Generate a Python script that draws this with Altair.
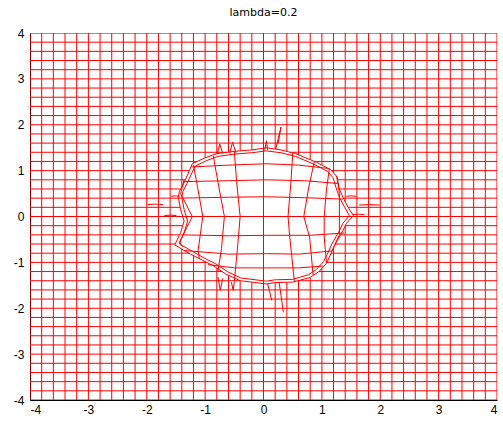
import altair as alt
import pandas as pd

TITLE = "lambda=0.2"
TICKS = [-4, -3, -2, -1, 0, 1, 2, 3, 4]

# Positions of the undistorted grid lines (both directions)
GRID = [-4.0, -3.8, -3.6, -3.4, -3.2, -3.0, -2.8, -2.6, -2.4, -2.2, -2.0,
        -1.8, -1.6, -1.4, -1.2, -1.0, -0.8, -0.6, -0.4, -0.2, 0.0,
        0.2, 0.4, 0.6, 0.8, 1.0, 1.2, 1.4, 1.6, 1.8, 2.0,
        2.2, 2.4, 2.6, 2.8, 3.0, 3.2, 3.4, 3.6, 3.8, 4.0]

# Outline of the distorted region (clockwise from the top)
BOUNDARY_X = [0.05, 0.30, 0.55, 0.91, 1.15, 1.25, 1.30, 1.36, 1.45, 1.54, 1.42,
              1.36, 1.22, 1.14, 1.08, 0.95, 0.80, 0.50, 0.20, 0.05, -0.20,
              -0.40, -0.65, -0.85, -1.05, -1.25, -1.52, -1.42, -1.36, -1.42,
              -1.46, -1.44, -1.36, -1.27, -1.22, -1.00, -0.80, -0.50, -0.20]
BOUNDARY_Y = [1.50, 1.45, 1.37, 1.18, 1.02, 0.88, 0.60, 0.42, 0.20, 0.02, -0.15,
              -0.31, -0.62, -0.85, -1.02, -1.20, -1.33, -1.43, -1.44, -1.47, -1.43,
              -1.40, -1.25, -1.08, -0.95, -0.82, -0.62, -0.35, -0.10, 0.15,
              0.42, 0.55, 0.74, 1.00, 1.15, 1.28, 1.37, 1.42, 1.45]

# Compressed grid lines running just inside the outline
RING_X = [0.05, 0.30, 0.55, 0.88, 1.10, 1.19, 1.25, 1.30, 1.39, 1.47, 1.36,
          1.30, 1.17, 1.09, 1.03, 0.91, 0.77, 0.50, 0.20, 0.05, -0.20,
          -0.39, -0.62, -0.82, -1.01, -1.19, -1.44, -1.36, -1.30, -1.36,
          -1.40, -1.38, -1.31, -1.22, -1.17, -0.97, -0.78, -0.50, -0.20]
RING_Y = [1.43, 1.39, 1.31, 1.13, 0.98, 0.85, 0.60, 0.42, 0.20, 0.02, -0.15,
          -0.31, -0.60, -0.83, -0.98, -1.15, -1.27, -1.37, -1.38, -1.41, -1.37,
          -1.34, -1.20, -1.03, -0.91, -0.78, -0.60, -0.35, -0.10, 0.15,
          0.42, 0.55, 0.72, 0.97, 1.10, 1.22, 1.31, 1.36, 1.39]

# Distorted grid lines inside the region (vertical family, top to bottom)
INNER_V = [
    ([-0.50, -0.46, -0.40, -0.45, -0.50], [1.42, 0.75, 0.00, -0.75, -1.41]),
    ([0.50, 0.47, 0.42, 0.45, 0.53], [1.38, 0.75, 0.00, -0.45, -1.43]),
    ([-0.86, -0.78, -0.67, -0.72, -0.78], [1.32, 0.75, 0.00, -0.70, -1.20]),
    ([0.87, 0.77, 0.69, 0.79, 0.85], [1.20, 0.60, 0.00, -0.45, -1.28]),
    ([-1.20, -1.13, -1.04, -1.12, -1.10], [1.12, 0.64, 0.00, -0.74, -0.92]),
    ([1.13, 1.08, 1.04, 1.04, 1.08], [1.05, 0.60, 0.00, -0.45, -1.02]),
    ([-1.36, -1.42, -1.22, -1.44, -1.38], [0.80, 0.50, 0.00, -0.56, -0.66]),
    ([1.26, 1.30, 1.30, 1.30, 1.20], [0.88, 0.50, 0.00, -0.40, -0.68]),
]

# Distorted grid lines inside the region (horizontal family, left to right)
INNER_H = [
    ([-1.24, -0.60, 0.05, 0.60, 1.10], [1.08, 1.12, 1.15, 1.12, 1.05]),
    ([-1.38, -0.60, 0.05, 0.70, 1.28], [0.76, 0.78, 0.80, 0.78, 0.72]),
    ([-1.46, -0.60, 0.05, 0.70, 1.36], [0.40, 0.42, 0.43, 0.41, 0.38]),
    ([-1.42, -0.60, 0.05, 0.80, 1.38], [-0.40, -0.42, -0.41, -0.41, -0.36]),
    ([-1.36, -0.60, 0.05, 0.60, 1.18], [-0.74, -0.82, -0.81, -0.82, -0.75]),
    ([-0.95, -0.50, 0.05, 0.60, 1.02], [-1.05, -1.12, -1.12, -1.12, -1.08]),
]

# Stray strokes sticking out of the outline
SPIKES = [
    ([0.21, 0.30, 0.25], [1.47, 1.95, 1.60]),
    ([0.02, 0.05, 0.07], [1.44, 1.65, 1.45]),
    ([-0.79, -0.75, -0.70], [1.37, 1.58, 1.38]),
    ([-0.58, -0.53, -0.47], [1.37, 1.62, 1.38]),
    ([0.07, 0.10, 0.14], [-1.47, -1.61, -1.83]),
    ([0.27, 0.30, 0.34], [-1.45, -1.72, -2.09]),
    ([-0.78, -0.74, -0.70], [-1.32, -1.61, -1.35]),
    ([-0.55, -0.52, -0.50], [-1.43, -1.61, -1.42]),
    ([-1.98, -1.85, -1.72], [0.26, 0.27, 0.26]),
    ([-1.70, -1.60, -1.49], [0.02, 0.03, 0.02]),
    ([-1.58, -1.51, -1.44], [0.44, 0.45, 0.44]),
    ([1.42, 1.50, 1.59], [0.44, 0.45, 0.44]),
    ([1.64, 1.80, 1.99], [0.25, 0.26, 0.25]),
    ([1.53, 1.63, 1.73], [0.04, 0.05, 0.04]),
]


def crossings(c, vertical):
    """Where the line x=c (or y=c) meets the outline."""
    px, py = (BOUNDARY_X, BOUNDARY_Y) if vertical else (BOUNDARY_Y, BOUNDARY_X)
    n = len(px)
    hits = []
    for i in range(n):
        a0, b0 = px[i], py[i]
        a1, b1 = px[(i + 1) % n], py[(i + 1) % n]
        if a0 == a1:
            continue
        if (a0 - c) * (a1 - c) <= 0:
            hits.append(b0 + (c - a0) * (b1 - b0) / (a1 - a0))
    return hits


rows = []


def add_path(name, xs, ys):
    for k, (x, y) in enumerate(zip(xs, ys)):
        rows.append({"id": name, "o": k, "x": x, "y": y})


lo, hi = GRID[0], GRID[-1]
for g in GRID:
    for vertical in (True, False):
        tag = ("v" if vertical else "h") + str(g)
        hits = [] if g == 0.0 else crossings(g, vertical)
        if hits:
            segs = [(hi, max(hits)), (min(hits), lo)]
        else:
            segs = [(hi, lo)]
        for s, (a, b) in enumerate(segs):
            if vertical:
                add_path(f"{tag}_{s}", [g, g], [a, b])
            else:
                add_path(f"{tag}_{s}", [a, b], [g, g])

add_path("outline", BOUNDARY_X + BOUNDARY_X[:1], BOUNDARY_Y + BOUNDARY_Y[:1])
add_path("ring", RING_X + RING_X[:1], RING_Y + RING_Y[:1])
for i, (xs, ys) in enumerate(INNER_V):
    add_path(f"iv{i}", xs, ys)
for i, (xs, ys) in enumerate(INNER_H):
    add_path(f"ih{i}", xs, ys)
for i, (xs, ys) in enumerate(SPIKES):
    add_path(f"sp{i}", xs, ys)

df = pd.DataFrame(rows)

axis_common = dict(
    values=TICKS, labelExpr="'' + datum.value", grid=False, ticks=False,
    labelFont="Liberation Sans", labelFontSize=12, labelColor="black",
    domainColor="black", domainWidth=1, title=None,
)

chart = (
    alt.Chart(df)
    .mark_line(color="#ff0000", strokeWidth=1, clip=True)
    .encode(
        x=alt.X("x:Q", scale=alt.Scale(domain=[-4, 4], nice=False, zero=False),
                axis=alt.Axis(labelPadding=4, **axis_common)),
        y=alt.Y("y:Q", scale=alt.Scale(domain=[-4, 4], nice=False, zero=False),
                axis=alt.Axis(labelPadding=6, **axis_common)),
        detail="id:N",
        order="o:Q",
    )
    .properties(
        width=467, height=367,
        title=alt.TitleParams(TITLE, font="DejaVu Sans", fontSize=11,
                              fontWeight="normal", color="black", offset=9),
        autosize=alt.AutoSizeParams(type="none"),
        padding={"left": 30, "top": 33, "right": 6, "bottom": 23},
    )
    .configure_view(stroke="black", strokeWidth=1)
    .configure(background="white")
)

chart.save("out.html", embed_options={"renderer": "svg", "actions": False})
